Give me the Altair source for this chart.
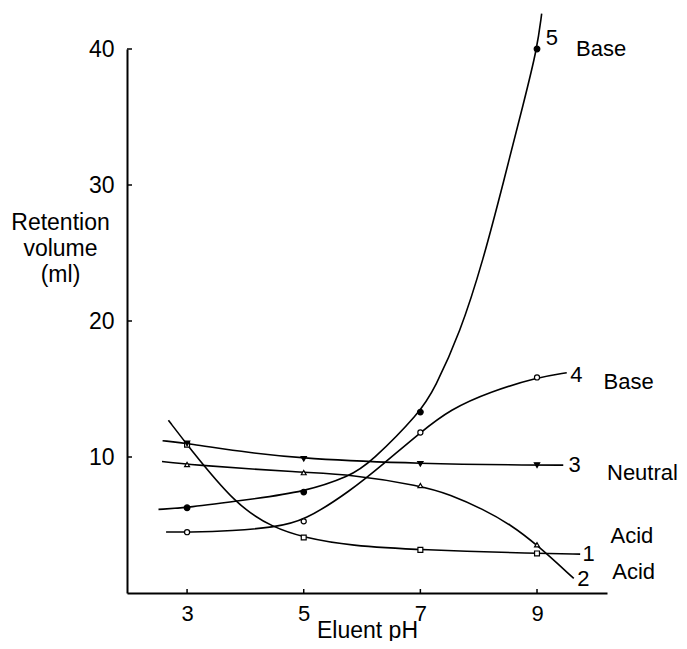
import altair as alt
import pandas as pd

# ---- data ----
ph_ticks = [3, 5, 7, 9]
vol_ticks = [10, 20, 30, 40]

# points
c1_x = [2.68, 3.0, 3.85, 4.48, 5.0, 5.8, 7.0, 9.0, 9.74]
c1_y = [12.7, 10.9, 6.40, 4.81, 4.08, 3.47, 3.17, 2.91, 2.86]

c2_x = [2.57, 3.0, 5.0, 5.8, 7.0, 7.51, 8.08, 8.54, 9.0, 9.63]
c2_y = [9.67, 9.45, 8.85, 8.72, 7.9, 7.25, 6.15, 5.05, 3.55, 1.07]

c3_x = [2.58, 3.0, 4.08, 5.0, 7.0, 9.0, 9.45]
c3_y = [11.2, 11.0, 10.3, 9.87, 9.5, 9.4, 9.4]

c4_x = [2.64, 3.0, 3.79, 4.48, 5.0, 5.8, 6.37, 7.0, 7.51, 8.2, 9.0, 9.51]
c4_y = [4.49, 4.47, 4.57, 4.83, 5.27, 7.5, 9.5, 11.8, 13.5, 14.8, 15.85, 16.2]

c5_x = [2.51, 3.0, 4.08, 5.0, 5.8, 6.14, 7.0, 7.24, 7.68, 8.08, 8.43, 8.78, 9.0, 9.08]
c5_y = [6.15, 6.27, 6.89, 7.42, 8.6, 9.57, 13.3, 15.0, 19.1, 24.5, 30.3, 36.2, 40.0, 42.6]

# measured points (markers) at pH 3, 5, 7, 9
m1 = [10.9, 4.08, 3.17, 2.91]
m2 = [9.45, 8.85, 7.9, 3.55]
m3 = [11.0, 9.87, 9.5, 9.4]
m4 = [4.47, 5.27, 11.8, 15.85]
m5 = [6.27, 7.42, 13.3, 40.0]

# curve annotations
ann_text = ["5", "Base", "4", "Base", "3", "Neutral", "1", "Acid", "2", "Acid"]
ann_x = [9.15, 9.67, 9.57, 10.14, 9.54, 10.2, 9.78, 10.26, 9.69, 10.29]
ann_y = [40.8, 40.0, 16.0, 15.5, 9.38, 8.86, 2.86, 4.18, 1.03, 1.54]

# ---- build tables ----
curve_sets = {"1": (c1_x, c1_y), "2": (c2_x, c2_y), "3": (c3_x, c3_y),
              "4": (c4_x, c4_y), "5": (c5_x, c5_y)}
rows = []
for s, (xs_, ys_) in curve_sets.items():
    for i, (a, b) in enumerate(zip(xs_, ys_)):
        rows.append({"series": s, "x": a, "y": b, "o": i})
curves = pd.DataFrame(rows)

marks = {"1": m1, "2": m2, "3": m3, "4": m4, "5": m5}
marker_style = {
    "1": dict(shape="square", filled=False, size=24),
    "2": dict(shape="triangle-up", filled=False, size=24),
    "3": dict(shape="triangle-down", filled=True, size=28),
    "4": dict(shape="circle", filled=False, size=26),
    "5": dict(shape="circle", filled=True, size=32),
}

ann = pd.DataFrame({"t": ann_text, "x": ann_x, "y": ann_y})

W, H = 480, 544
FONT = "Liberation Sans"
xs = alt.Scale(domain=[1.97, 10.2], nice=False, zero=False)
ys = alt.Scale(domain=[0, 40], nice=False, zero=False)

x_axis = alt.Axis(
    values=ph_ticks, ticks=False, labelPadding=10, labelFontSize=22,
    title="Eluent pH", titleBaseline="alphabetic", titleY=44, titleFontSize=23)
y_axis = alt.Axis(
    values=vol_ticks, ticks=False, labelPadding=13, labelFontSize=23,
    title=["Retention", "volume", "(ml)"], titleAngle=0, titleAlign="center",
    titleBaseline="top", titleX=-67, titleY=162, titleLineHeight=26,
    titleFontSize=23)


def X():
    return alt.X("x:Q", scale=xs, axis=x_axis)


def Y():
    return alt.Y("y:Q", scale=ys, axis=y_axis)


lines = alt.Chart(curves).mark_line(
    interpolate="basis", color="black", strokeWidth=1.6
).encode(x=X(), y=Y(), detail="series:N", order="o:Q")

layers = [lines]
for s, vals in marks.items():
    st = marker_style[s]
    df = pd.DataFrame({"x": ph_ticks, "y": vals})
    layers.append(
        alt.Chart(df).mark_point(
            shape=st["shape"], filled=True,
            fill="black" if st["filled"] else "white",
            stroke="black", strokeWidth=1.2, size=st["size"], opacity=1,
        ).encode(x=X(), y=Y())
    )

xt = pd.DataFrame({"x": ph_ticks})
yt = pd.DataFrame({"y": vol_ticks})
layers.append(
    alt.Chart(xt).mark_rule(color="black", strokeWidth=1.5).encode(
        x=X(), y=alt.value(H), y2=alt.value(H - 4))
)
layers.append(
    alt.Chart(yt).mark_rule(color="black", strokeWidth=1.5).encode(
        y=Y(), x=alt.value(0), x2=alt.value(5))
)
layers.append(
    alt.Chart(ann).mark_text(align="left", baseline="middle", fontSize=22,
                             font=FONT, color="black").encode(
        x=X(), y=Y(), text="t:N")
)

chart = alt.layer(*layers).properties(
    width=W, height=H,
    autosize="none",
    padding={"left": 119, "top": 41, "right": 72, "bottom": 48},
    background="white",
).configure_view(stroke=None).configure_axis(
    domainColor="black", domainWidth=2, grid=False,
    labelColor="black", labelFont=FONT,
    titleColor="black", titleFont=FONT, titleFontWeight="normal",
)

chart.save("out.html", embed_options={"renderer": "svg", "actions": False})
